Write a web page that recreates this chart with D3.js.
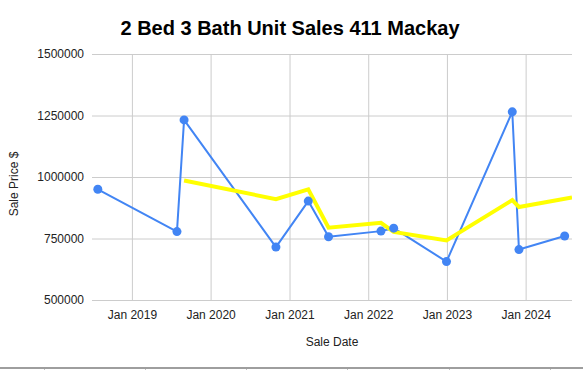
<!DOCTYPE html>
<html>
<head>
<meta charset="utf-8">
<script src="https://cdn.jsdelivr.net/npm/d3@7"></script>
<style>
  html, body { margin: 0; padding: 0; background: #fff; }
  svg { display: block; font-family: "Liberation Sans", Arial, sans-serif; }
</style>
</head>
<body>
<svg id="chart" width="583" height="370"></svg>
<script>
// ---- data ----
const saleDates = ["2018-07-27","2019-07-29","2019-08-31","2020-10-30","2021-03-29","2021-07-01",
                   "2022-03-01","2022-04-29","2022-12-30","2023-10-31","2023-12-01","2024-06-30"];
const salePrices = [950000, 778000, 1232000, 715000, 902000, 757000,
                    780000, 792000, 656000, 1265000, 705000, 760000];
const trendDates = ["2019-08-31","2020-10-30","2021-03-29","2021-07-01","2022-03-01",
                    "2022-04-29","2022-12-30","2023-10-31","2023-12-01","2024-08-03"];
const trendValues = [986000, 910000, 950000, 794000, 814000, 777000, 742000, 906000, 878000, 917000];
const yTicks = [500000, 750000, 1000000, 1250000, 1500000];
const xTickDates = ["2019-01-01","2020-01-01","2021-01-01","2022-01-01","2023-01-01","2024-01-01"];
const xDomain = ["2018-06-30","2024-08-03"];
const titleText = "2 Bed 3 Bath Unit Sales 411 Mackay";
const xTitle = "Sale Date";
const yTitle = "Sale Price $";

// ---- layout ----
const W = 583, H = 370;
const plot = { left: 92, right: 572, top: 54, bottom: 300 };
const parse = d3.utcParse("%Y-%m-%d");
const svg = d3.select("#chart");

const x = d3.scaleUtc().domain(xDomain.map(parse)).range([plot.left, plot.right]);
const y = d3.scaleLinear().domain([500000, 1500000]).range([plot.bottom, plot.top]);

// gridlines
const yAxis = d3.axisLeft(y).tickValues(yTicks).tickSize(-(plot.right - plot.left)).tickFormat(d3.format("d")).tickPadding(8);
const yg = svg.append("g").attr("transform", `translate(${plot.left},0)`).call(yAxis);
yg.select(".domain").remove();
yg.selectAll(".tick line").attr("stroke", "#cccccc").attr("stroke-width", 1);
yg.selectAll(".tick text").attr("fill", "#222").style("font-size", "12px").style("font-family", "Liberation Sans, Arial, sans-serif");

const xAxis = d3.axisBottom(x).tickValues(xTickDates.map(parse)).tickSize(-(plot.bottom - plot.top))
  .tickFormat(d3.utcFormat("Jan %Y")).tickPadding(10);
const xg = svg.append("g").attr("transform", `translate(0,${plot.bottom})`).call(xAxis);
xg.select(".domain").remove();
xg.selectAll(".tick line").attr("stroke", "#cccccc").attr("stroke-width", 1);
xg.selectAll(".tick text").attr("fill", "#222").style("font-size", "12px").style("font-family", "Liberation Sans, Arial, sans-serif");

// clip
svg.append("clipPath").attr("id", "clip").append("rect")
  .attr("x", plot.left).attr("y", plot.top - 10).attr("width", plot.right - plot.left).attr("height", plot.bottom - plot.top + 20);

const data = saleDates.map((d, i) => ({ date: parse(d), v: salePrices[i] }));
const trend = trendDates.map((d, i) => ({ date: parse(d), v: trendValues[i] }));
const line = d3.line().x(d => x(d.date)).y(d => y(d.v));

const g = svg.append("g").attr("clip-path", "url(#clip)");
g.append("path").datum(data).attr("d", line).attr("fill", "none")
  .attr("stroke", "#4285f4").attr("stroke-width", 2).attr("stroke-linejoin", "round");
g.append("path").datum(trend).attr("d", line).attr("fill", "none")
  .attr("stroke", "#ffff00").attr("stroke-width", 4).attr("stroke-linejoin", "miter");
svg.append("g").selectAll("circle").data(data).join("circle")
  .attr("cx", d => x(d.date)).attr("cy", d => y(d.v)).attr("r", 4.5).attr("fill", "#4285f4");

// titles
svg.append("text").attr("x", 290).attr("y", 35).attr("text-anchor", "middle")
  .style("font-size", "20px").style("font-weight", "bold").attr("fill", "#000").text(titleText);
svg.append("text").attr("x", (plot.left + plot.right) / 2).attr("y", 346).attr("text-anchor", "middle")
  .style("font-size", "12px").attr("fill", "#222").text(xTitle);
svg.append("text").attr("transform", "translate(18,184) rotate(-90)").attr("text-anchor", "middle")
  .style("font-size", "12px").attr("fill", "#222").text(yTitle);

// spreadsheet cell border at bottom
svg.append("line").attr("x1", 0).attr("x2", W).attr("y1", 368).attr("y2", 368)
  .attr("stroke", "#9e9e9e").attr("stroke-width", 2);
[44, 145, 246, 347, 449, 550].forEach(px => {
  svg.append("line").attr("x1", px + 0.5).attr("x2", px + 0.5).attr("y1", 369).attr("y2", 370)
    .attr("stroke", "#c0c0c0").attr("stroke-width", 1);
});
</script>
</body>
</html>
